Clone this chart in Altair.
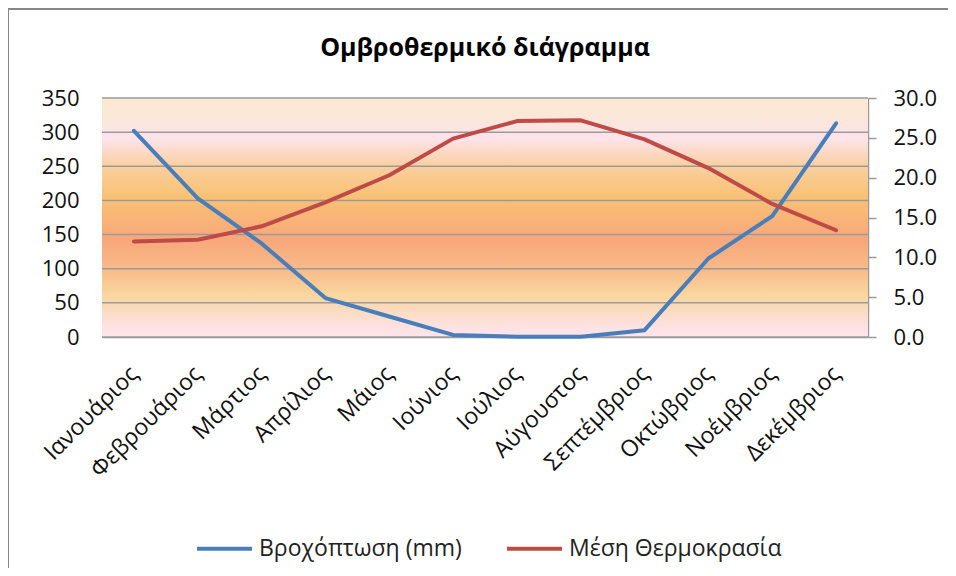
import altair as alt
import pandas as pd

months = ["Ιανουάριος", "Φεβρουάριος", "Μάρτιος", "Απρίλιος", "Μάιος", "Ιούνιος",
          "Ιούλιος", "Αύγουστος", "Σεπτέμβριος", "Οκτώβριος", "Νοέμβριος", "Δεκέμβριος"]
rain = [302, 203, 137, 57, 30, 3, 0.5, 0.5, 10, 115, 177, 313]
temp = [12.0, 12.2, 13.9, 16.9, 20.3, 24.9, 27.1, 27.2, 24.8, 21.2, 16.7, 13.4]
series = ["Βροχόπτωση (mm)", "Μέση Θερμοκρασία"]
series_colors = ["#4A7EBB", "#BE4B48"]
rain_ticks = [0, 50, 100, 150, 200, 250, 300, 350]
temp_ticks = [0, 5, 10, 15, 20, 25, 30]
title_text = "Ομβροθερμικό διάγραμμα"

W, H = 766, 239
FONT = "Open Sans"

df = pd.DataFrame({"month": months, "rain": rain, "temp": temp})
df["s_rain"] = series[0]
df["s_temp"] = series[1]
grid_df = pd.DataFrame({"g": rain_ticks})
one = pd.DataFrame({"a": [0]})

gradient = alt.Gradient(
    gradient="linear", x1=0, x2=0, y1=0, y2=1,
    stops=[
        alt.GradientStop(offset=0.0, color="#FAE9D3"),
        alt.GradientStop(offset=0.08, color="#FBE7D8"),
        alt.GradientStop(offset=0.17, color="#FDE3EB"),
        alt.GradientStop(offset=0.28, color="#FAD0A2"),
        alt.GradientStop(offset=0.41, color="#F8C275"),
        alt.GradientStop(offset=0.59, color="#F8A779"),
        alt.GradientStop(offset=0.71, color="#F8B988"),
        alt.GradientStop(offset=0.82, color="#FAD59E"),
        alt.GradientStop(offset=0.96, color="#FDE2E3"),
        alt.GradientStop(offset=1.0, color="#FDE5EA"),
    ],
)

bg = alt.Chart(one).mark_rect(fill=gradient).encode(
    x=alt.value(0), x2=alt.value(W), y=alt.value(0), y2=alt.value(H)
)

border_left = alt.Chart(one).mark_rule(color="#878787", strokeWidth=2).encode(
    x=alt.value(-94), y=alt.value(-89), y2=alt.value(480)
)
border_top = alt.Chart(one).mark_rule(color="#878787", strokeWidth=2).encode(
    x=alt.value(-95), x2=alt.value(W + 90), y=alt.value(-89)
)

left_axis = alt.Axis(
    orient="left", values=rain_ticks, title=None, grid=False, domain=False,
    ticks=False, labelPadding=23, labelFontSize=22, labelFont=FONT,
    labelColor="#111111",
)
rain_scale = alt.Scale(domain=[0, 350])

grid = alt.Chart(grid_df).mark_rule(color="#9A9A9A", strokeWidth=1.5).encode(
    y=alt.Y("g:Q", scale=rain_scale, axis=left_axis)
)

color_legend = alt.Legend(
    title=None, orient="none", legendX=93, legendY=421, direction="horizontal",
    symbolType="stroke", symbolSize=3025, symbolStrokeWidth=4,
    labelFontSize=23, labelFont=FONT, labelColor="#222222", labelOffset=5,
    labelLimit=400, columnPadding=37, padding=0,
)
color_scale = alt.Scale(domain=series, range=series_colors)

x_enc = alt.X(
    "month:N", sort=months, title=None,
    axis=alt.Axis(labelAngle=-45, labelAlign="right", labelBaseline="middle",
                  labelPadding=33, ticks=False, domain=True, domainColor="#9A9A9A",
                  domainWidth=1.5, labelFontSize=23, labelFont=FONT,
                  labelColor="#111111", grid=False),
)

rain_line = alt.Chart(df).mark_line(strokeWidth=4, strokeCap="round", strokeJoin="round").encode(
    x=x_enc,
    y=alt.Y("rain:Q", scale=rain_scale, axis=left_axis),
    color=alt.Color("s_rain:N", scale=color_scale, legend=color_legend, title=None),
)

temp_line = alt.Chart(df).mark_line(strokeWidth=4, strokeCap="round", strokeJoin="round").encode(
    x=x_enc,
    y=alt.Y("temp:Q", scale=alt.Scale(domain=[0, 30]),
            axis=alt.Axis(orient="right", values=temp_ticks, format=".1f", title=None,
                          grid=False, domain=True, domainColor="#9A9A9A", domainWidth=1.5,
                          ticks=True, tickSize=8, tickColor="#9A9A9A", tickWidth=1.5,
                          labelPadding=17, labelFontSize=22, labelFont=FONT,
                          labelColor="#111111")),
    color=alt.Color("s_temp:N", scale=color_scale, legend=color_legend, title=None),
)

left = alt.layer(bg, border_left, border_top, grid, rain_line)

chart = alt.layer(left, temp_line).resolve_scale(y="independent").properties(
    width=W, height=H,
    title=alt.Title(title_text, fontSize=25, fontWeight="bold", font=FONT,
                    color="#000000", anchor="middle", frame="group", offset=-53),
    autosize=alt.AutoSizeParams(type="none"),
    padding={"left": 94, "top": 90, "right": 80, "bottom": 231},
).configure_view(stroke=None).configure(background="white")

chart.save("out.html", embed_options={"renderer": "svg", "actions": False})
